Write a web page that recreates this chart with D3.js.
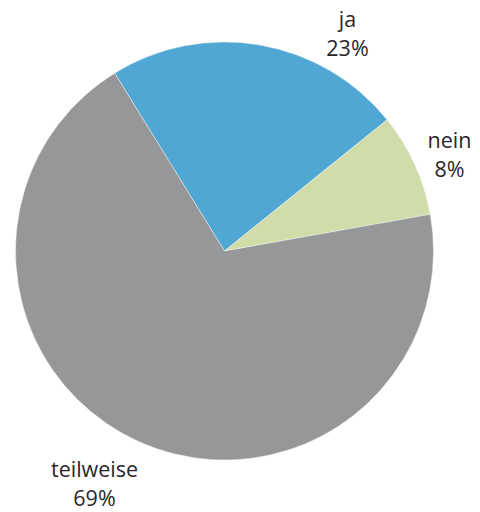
<!DOCTYPE html>
<html><head><meta charset="utf-8">
<script src="https://cdn.jsdelivr.net/npm/d3@7"></script>
<style>html,body{margin:0;padding:0;background:#fff;}svg{display:block;}</style>
</head><body>
<script>
const categories = ["ja", "nein", "teilweise"];
const values = [23, 8, 69];
const labels = ["23%", "8%", "69%"];
const colors = ["#51a7d4", "#d1dcab", "#969799"];

const W = 480, H = 512;
const cx = 224.5, cy = 251, R = 209;
const svg = d3.select("body").append("svg").attr("width", W).attr("height", H);
const g = svg.append("g").attr("transform", `translate(${cx},${cy})`);

const startA = -31.7 * Math.PI / 180;
const pie = d3.pie().sort(null).value(d => d.v)
  .startAngle(startA).endAngle(startA + 2 * Math.PI);
const data = categories.map((c, i) => ({c, v: values[i], l: labels[i], col: colors[i]}));
const arcs = pie(data);
const arc = d3.arc().innerRadius(0).outerRadius(R);

g.selectAll("path").data(arcs).join("path")
  .attr("d", arc).attr("fill", d => d.data.col)
  .attr("stroke", "#ffffff").attr("stroke-width", 0.4);

// label layout (relative to pie centre): [dx, dy of first baseline]
const labelLayout = [[123, -224], [225, -103], [-130, 226]];
const lineGap = 29;
arcs.forEach((a, i) => {
  const [x, y] = labelLayout[i];
  const t = g.append("text").attr("text-anchor", "middle")
    .attr("font-family", "'Open Sans', sans-serif").attr("font-size", 21.5)
    .attr("fill", "#2a2627");
  t.append("tspan").attr("x", x).attr("y", y).text(a.data.c);
  t.append("tspan").attr("x", x).attr("y", y + lineGap).text(a.data.l);
});
</script>
</body></html>
